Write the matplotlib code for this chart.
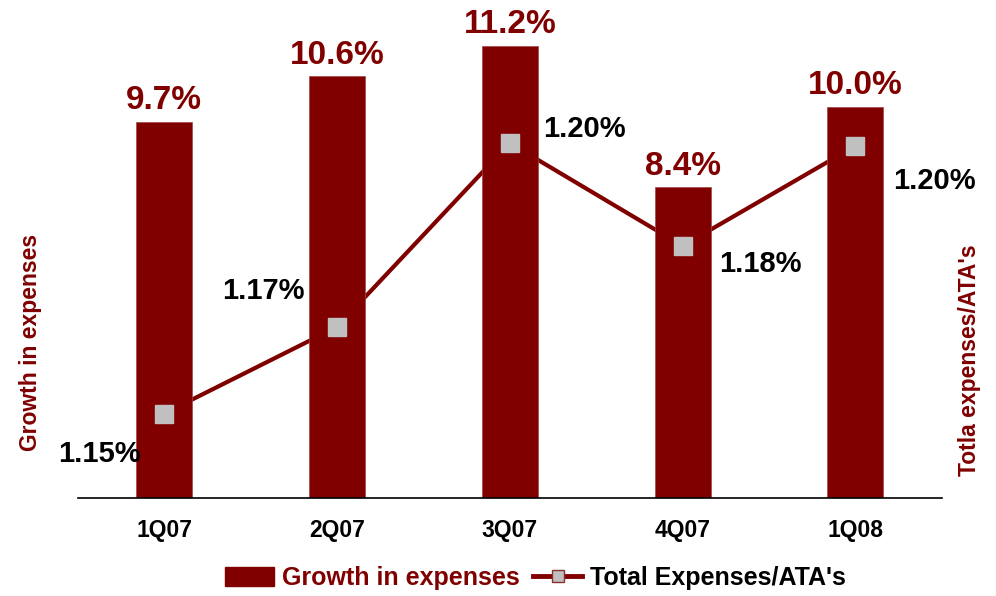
import numpy as np
import matplotlib
matplotlib.use("Agg")
import matplotlib.pyplot as plt
import matplotlib.transforms as mtransforms
from matplotlib.patches import Patch
from matplotlib.lines import Line2D

plt.rcParams["font.family"] = ["Liberation Sans", "DejaVu Sans"]
plt.rcParams["font.weight"] = "bold"

quarters = ["1Q07", "2Q07", "3Q07", "4Q07", "1Q08"]
growth = [9.7, 10.6, 11.2, 8.4, 10.0]              # growth in expenses, %
exp_ata = [1.151, 1.167, 1.201, 1.182, 1.2005]     # total expenses / ATA's, %

DARK_RED = "#800000"
GREY = "#C0C0C0"

# where each ratio label sits relative to its marker (points, alignment)
LINE_LABEL_POS = [((-17, -29), "right"), ((-23, 26), "right"), ((24, 10), "left"),
                  ((26, -13), "left"), ((27, -25), "left")]

fig = plt.figure(figsize=(9.96, 5.96), dpi=100)
ax = fig.add_axes([0.0779, 0.1644, 0.8678, 0.8188])
ax2 = ax.twinx()
# bars sit in front of the connecting line
ax.set_zorder(ax2.get_zorder() + 1)
ax.patch.set_visible(False)

x = np.arange(len(quarters))
ax.bar(x, growth, width=0.324, color=DARK_RED, edgecolor="#a04848", linewidth=0.5, zorder=2)
ax.set_xlim(-0.5, len(quarters) - 0.5)
ax.set_ylim(2.25, 11.91)
ax2.set_ylim(1.1354, 1.2256)

for xi, v in zip(x, growth):
    ax.annotate(f"{v:.1f}%", (xi, v), xytext=(0, 9), textcoords="offset points",
                ha="center", va="baseline", fontsize=24, fontweight="bold", color=DARK_RED)

ax2.plot(x, exp_ata, color=DARK_RED, linewidth=3, solid_capstyle="butt", zorder=1)

# markers and their labels go on top of the bars, still on the ratio scale
mixed = mtransforms.blended_transform_factory(ax.transData, ax2.transData)
ax.plot(x, exp_ata, linestyle="none", marker="s", markersize=13.5,
        markerfacecolor=GREY, markeredgecolor=GREY, transform=mixed, zorder=3)
for xi, v, (off, ha) in zip(x, exp_ata, LINE_LABEL_POS):
    ax.annotate(f"{v:.2f}%", (xi, v), xycoords=mixed, xytext=off, textcoords="offset points",
                ha=ha, va="center", fontsize=21, fontweight="bold", color="black", zorder=4)

ax.set_xticks(x)
ax.set_xticklabels(quarters, fontsize=16.5, fontweight="bold")
ax.tick_params(axis="x", length=0, pad=15)
ax.set_yticks([])
ax2.set_yticks([])
for a in (ax, ax2):
    for side in ("top", "left", "right"):
        a.spines[side].set_visible(False)
ax2.spines["bottom"].set_visible(False)
ax.spines["bottom"].set_color("black")
ax.spines["bottom"].set_linewidth(1.2)

fig.text(30 / 996, 1 - 342 / 596, "Growth in expenses", rotation=90, ha="center", va="center",
         fontsize=16.5, fontweight="bold", color=DARK_RED)
fig.text(969 / 996, 1 - 360 / 596, "Totla expenses/ATA's", rotation=90, ha="center", va="center",
         fontsize=16.5, fontweight="bold", color=DARK_RED)

handles = [
    Patch(facecolor=DARK_RED, edgecolor=DARK_RED),
    Line2D([], [], color=DARK_RED, linewidth=3.5, marker="s", markersize=9,
           markerfacecolor=GREY, markeredgecolor="#8a3030"),
]
leg = fig.legend(handles, ["Growth in expenses", "Total Expenses/ATA's"], loc="center",
                 bbox_to_anchor=(535.5 / 996, 1 - 578 / 596), ncol=2, frameon=False,
                 prop={"size": 18, "weight": "bold"}, handlelength=1.95, handleheight=0.76,
                 handletextpad=0.32, columnspacing=0.56, borderpad=0)
leg.get_texts()[0].set_color(DARK_RED)
leg.get_texts()[1].set_color("black")

fig.savefig("out.png", dpi=100)
